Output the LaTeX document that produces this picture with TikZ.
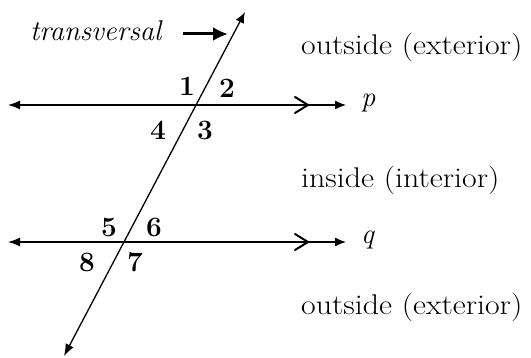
\documentclass[tikz,border=0pt]{standalone}
\usepackage{fontspec}
\usetikzlibrary{arrows.meta}
\newcommand{\widetext}[1]{\scalebox{1.12}[1]{#1}}
\begin{document}
\begin{tikzpicture}[x=1pt,y=-1pt,
  ln/.style={line width=1.3pt,{Latex[length=12pt,width=9pt]}-{Latex[length=11pt,width=9pt]}},
  chev/.style={line width=2pt,line cap=round,line join=miter},
  num/.style={inner sep=0pt,font=\fontsize{28}{30}\selectfont\bfseries},
  lab/.style={inner sep=0pt,font=\fontsize{28.5}{31}\selectfont},
  ilab/.style={inner sep=0pt,font=\fontsize{28.5}{30}\selectfont\itshape}]
\useasboundingbox (0,0) rectangle (531,358);
% coordinates
\coordinate (pL) at (8,105);
\coordinate (pR) at (346,105);
\coordinate (qL) at (8,242);
\coordinate (qR) at (346,242);
\coordinate (tT) at (245,12);
\coordinate (tB) at (64,356);
% lines
\draw[ln] (pL) -- (pR);
\draw[ln] (qL) -- (qR);
\draw[ln] (tB) -- (tT);
% parallel marks
\coordinate (pc) at (308,105);
\coordinate (qc) at (308,242);
\draw[chev] ([shift={(-13,-8)}]pc) -- (pc) -- ([shift={(-13,8)}]pc);
\draw[chev] ([shift={(-13,-8)}]qc) -- (qc) -- ([shift={(-13,8)}]qc);
% transversal label and arrow
\node[ilab,anchor=base west] (tr) at (30,41) {transversal};
\coordinate (trA) at (183,34);
\coordinate (trB) at (228,34);
\draw[line width=3pt,-{Latex[length=15pt,width=14pt]}] (trA) -- (trB);
% angle numbers
\node[num] (n1) at (187,86) {1};
\node[num] (n2) at (227,88) {2};
\node[num] (n4) at (158,130) {4};
\node[num] (n3) at (205,130) {3};
\node[num] (n5) at (109,227) {5};
\node[num] (n6) at (154,227) {6};
\node[num] (n8) at (87,262) {8};
\node[num] (n7) at (135,262) {7};
% line names
\node[ilab,anchor=mid west] (pn) at (361,104) {p};
\node[ilab,anchor=mid west] (qn) at (361,241) {q};
% region labels
\node[lab,anchor=base west] (o1) at (301,55) {\widetext{outside (exterior)}};
\node[lab,anchor=base west] (in) at (301,188) {\widetext{inside (interior)}};
\node[lab,anchor=base west] (o2) at (301,315) {\widetext{outside (exterior)}};
\end{tikzpicture}
\end{document}
